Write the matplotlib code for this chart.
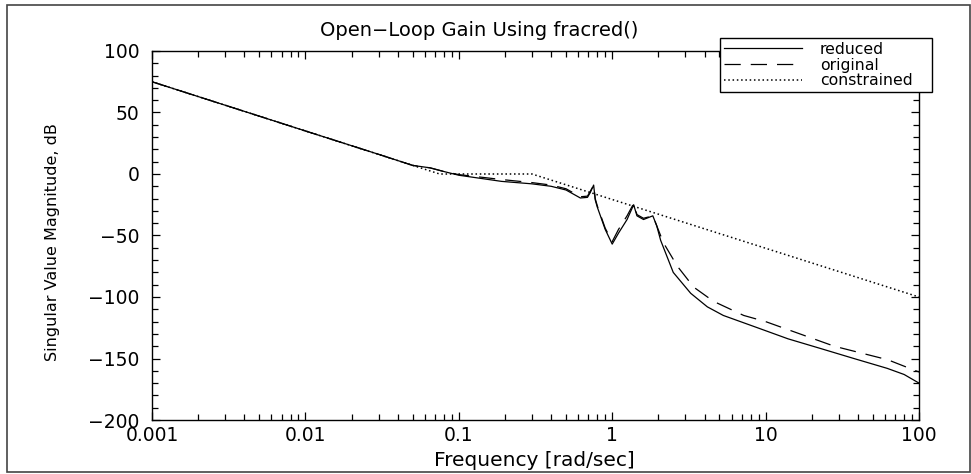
import matplotlib
matplotlib.use("Agg")
import matplotlib.pyplot as plt
from matplotlib.patches import Rectangle
from matplotlib.ticker import LogLocator, MultipleLocator, FixedLocator, FixedFormatter, NullFormatter
import numpy as np

plt.rcParams['font.family'] = ['DejaVu Sans']

# singular value curves, frequency in rad/sec, magnitude in dB
w_red = [0.001, 0.01, 0.03, 0.05, 0.065, 0.08, 0.1, 0.19, 0.3, 0.4, 0.5, 0.62,
         0.69, 0.72, 0.757, 0.775, 0.8, 0.9, 1.0, 1.1, 1.25, 1.38, 1.45, 1.6,
         1.84, 1.95, 2.07, 2.5, 3.25, 4.17, 5.3, 8.85, 14, 23, 37.6, 62, 80, 100]
mag_red = [75, 35, 16, 7, 5, 2, -1, -6, -8, -10, -13, -19.5,
           -19, -15, -9, -21, -27, -45, -57, -48, -37, -25, -34, -37,
           -34, -42, -54, -80, -97, -108, -115, -125, -134, -142, -150, -158, -163, -170]

w_orig = [0.001, 0.01, 0.03, 0.05, 0.065, 0.08, 0.1, 0.19, 0.3, 0.4, 0.5, 0.62,
          0.69, 0.72, 0.757, 0.775, 0.8, 0.9, 1.0, 1.1, 1.25, 1.38, 1.45, 1.6,
          1.84, 1.95, 2.16, 2.66, 3.4, 4.4, 4.85, 7.2, 10, 28, 62.5, 100]
mag_orig = [75, 35, 16, 7, 5, 2, -0.5, -4.5, -7, -9, -12, -18.5,
            -18, -14, -9, -20, -26, -44, -55, -45, -34, -24, -33, -36,
            -34, -42, -56, -75, -92, -102, -105, -115, -120, -140, -151, -161]

w_con = [0.001, 0.075, 0.3, 100]
mag_con = [75, 0, 0, -100]

xticks = [0.001, 0.01, 0.1, 1, 10, 100]
xlabels = ['0.001', '0.01', '0.1', '1', '10', '100']

fig = plt.figure(figsize=(9.71, 4.74), dpi=100)
ax = fig.add_axes([152/971, 1-420/474, (919-152)/971, (420-51)/474])

ax.plot(w_red, mag_red, color='black', lw=0.9, label='reduced')
ax.plot(w_orig, mag_orig, color='black', lw=0.9, dashes=(13, 8), label='original')
ax.plot(w_con, mag_con, color='black', lw=1.1, dashes=(1, 1.8), label='constrained')

ax.set_xscale('log')
ax.set_xlim(0.001, 100)
ax.set_ylim(-200, 100)
ax.xaxis.set_major_locator(FixedLocator(xticks))
ax.xaxis.set_major_formatter(FixedFormatter(xlabels))
ax.xaxis.set_minor_locator(LogLocator(base=10, subs=np.arange(2, 10)))
ax.xaxis.set_minor_formatter(NullFormatter())
ax.yaxis.set_major_locator(MultipleLocator(50))
ax.yaxis.set_minor_locator(MultipleLocator(10))

ax.tick_params(which='both', direction='in', top=True, right=True, labelsize=13.5, color='black')
ax.tick_params(which='major', length=6, width=0.9)
ax.tick_params(which='minor', length=4, width=0.9)
ax.tick_params(axis='x', pad=4)
ax.tick_params(axis='y', pad=9)
for s in ax.spines.values():
    s.set_linewidth(1.0)

fig.text(479/971, 1-30/474, 'Open\u2212Loop Gain Using fracred()', fontsize=14,
         ha='center', va='center')
ax.set_xlabel('Frequency [rad/sec]', fontsize=14.5)
ax.xaxis.set_label_coords((534-152)/767, (420-461)/369)
ax.xaxis.label.set_va('center')
ax.set_ylabel('Singular Value Magnitude, dB', fontsize=11.5)
ax.yaxis.set_label_coords((53-152)/767, (420-242)/369)
ax.yaxis.label.set_va('center')

# legend box stretched to a fixed width in figure pixels
leg = ax.legend(loc='upper left', bbox_to_anchor=(720/971, 1-92/474, 212/971, 54/474),
                bbox_transform=fig.transFigure, mode='expand', fontsize=11.3,
                frameon=True, fancybox=False, framealpha=1, edgecolor='black',
                handlelength=5.0, handletextpad=1.1, borderpad=0.25,
                labelspacing=0.05, borderaxespad=0)
leg.get_frame().set_linewidth(1.0)
leg.set_zorder(5)

# outer frame around the whole figure
fig.patches.append(Rectangle((7/971, 1-472/474), (970-7)/971, (472-5)/474,
                             transform=fig.transFigure, fill=False,
                             edgecolor='#444444', lw=1.2))

fig.savefig('out.png', dpi=100)
